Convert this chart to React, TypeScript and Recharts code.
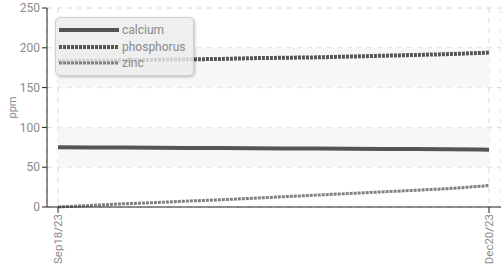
import {
  CartesianGrid,
  Line,
  LineChart,
  ReferenceArea,
  XAxis,
  YAxis,
} from 'recharts'

const days = [0, 7, 14, 21, 28, 35, 42, 49, 56, 63, 70, 77, 84, 91, 93]
const calcium = [75, 74.8, 74.6, 74.4, 74.2, 74, 73.8, 73.6, 73.4, 73.2, 73, 72.8, 72.5, 72.2, 72]
const phosphorus = [183, 183.5, 184, 185, 185.5, 186, 187, 187.5, 188, 189, 190, 191, 192, 193.5, 194]
const zinc = [0, 2, 4, 5.5, 7.5, 9, 11, 13, 15, 17, 19, 21, 23, 26, 27]
const tickDays = [0, 93]
const tickLabels = ['Sep18/23', 'Dec20/23']
const yTicks = [0, 50, 100, 150, 200, 250]

const data = days.map((day, i) => ({
  day,
  calcium: calcium[i],
  phosphorus: phosphorus[i],
  zinc: zinc[i],
}))

const FONT = 'Roboto, sans-serif'
const TEXT = '#8a8a8a'

const series = [
  { key: 'calcium', color: '#555555', width: 4, dash: undefined },
  { key: 'phosphorus', color: '#555555', width: 4, dash: '3 1' },
  { key: 'zinc', color: '#808080', width: 3, dash: '3 1' },
]

const XTick = ({ x, y, payload }: any) => {
  const idx = tickDays.indexOf(payload.value)
  return (
    <text
      x={0}
      y={0}
      transform={`translate(${x},${y}) rotate(-90)`}
      textAnchor="end"
      dominantBaseline="central"
      fill={TEXT}
      fontSize={11.5}
      fontFamily={FONT}
    >
      {tickLabels[idx]}
    </text>
  )
}

const PpmLabel = ({ viewBox }: any) => {
  const cy = viewBox.y + viewBox.height / 2
  return (
    <text
      x={0}
      y={0}
      transform={`translate(12,${cy}) rotate(-90)`}
      textAnchor="middle"
      dominantBaseline="central"
      fill={TEXT}
      fontSize={11}
      fontFamily={FONT}
    >
      ppm
    </text>
  )
}

const LegendBox = () => (
  <div
    style={{
      position: 'absolute',
      left: 55,
      top: 17,
      width: 139,
      height: 59,
      boxSizing: 'border-box',
      background: 'rgba(236,236,236,0.82)',
      border: '1px solid #d0d0d0',
      borderRadius: 5,
      boxShadow: '1px 1px 3px rgba(0,0,0,0.25)',
      padding: '4px 0 0 3px',
      fontFamily: FONT,
      fontSize: 12,
      color: TEXT,
    }}
  >
    {series.map((s) => (
      <div key={s.key} style={{ display: 'flex', alignItems: 'center', height: 16.5 }}>
        <svg width={60} height={6} style={{ marginRight: 3 }}>
          <line
            x1={0}
            y1={3}
            x2={60}
            y2={3}
            stroke={s.color}
            strokeWidth={s.width}
            strokeDasharray={s.dash}
          />
        </svg>
        <span style={{ lineHeight: '14px' }}>{s.key}</span>
      </div>
    ))}
  </div>
)

export default function App() {
  return (
    <div style={{ position: 'absolute', left: 0, top: 0, width: 501, height: 269, background: '#fff' }}>
      <LineChart
        width={501}
        height={269}
        data={data}
        margin={{ top: 8, right: 0, left: 0, bottom: 0 }}
      >
        <ReferenceArea y1={150} y2={200} fill="#f7f7f7" fillOpacity={1} stroke="none" ifOverflow="hidden" />
        <ReferenceArea y1={50} y2={100} fill="#f7f7f7" fillOpacity={1} stroke="none" ifOverflow="hidden" />
        <CartesianGrid stroke="#d8d8d8" strokeDasharray="5 5" />
        <XAxis
          dataKey="day"
          type="number"
          domain={[0, 93]}
          ticks={tickDays}
          padding={{ left: 11, right: 12 }}
          height={62}
          stroke="#222"
          tickSize={6}
          tickMargin={1}
          tick={<XTick />}
          interval={0}
        />
        <YAxis
          domain={[0, 250]}
          ticks={yTicks}
          width={47}
          stroke="#222"
          tickSize={5}
          tickMargin={2}
          tick={{ fill: TEXT, fontSize: 12, fontFamily: FONT }}
          label={<PpmLabel />}
        />
        {series.map((s) => (
          <Line
            key={s.key}
            type="linear"
            dataKey={s.key}
            stroke={s.color}
            strokeWidth={s.width}
            strokeDasharray={s.dash}
            dot={false}
            activeDot={false}
            isAnimationActive={false}
          />
        ))}
      </LineChart>
      <LegendBox />
    </div>
  )
}
